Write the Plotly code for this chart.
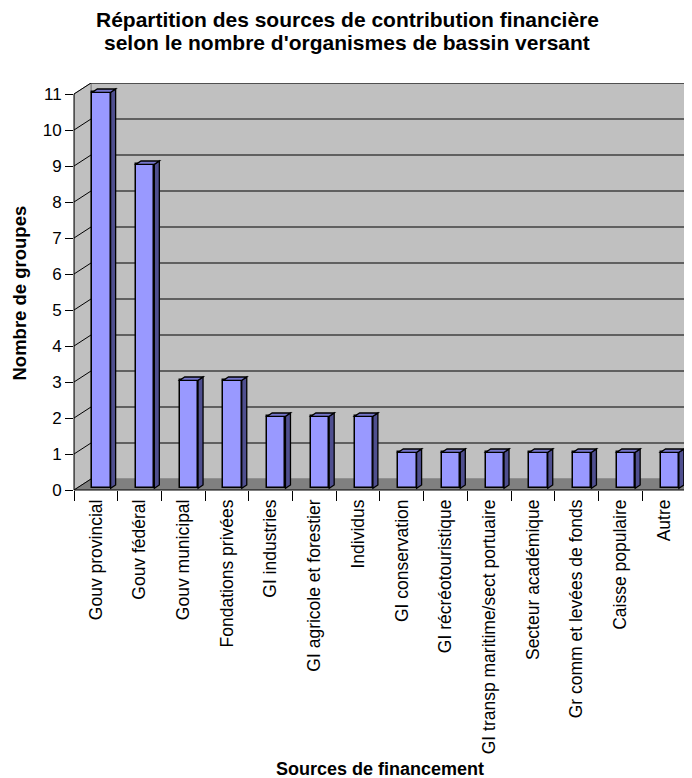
import plotly.graph_objects as go

# ---------------- data ----------------
categories = [
    "Gouv provincial", "Gouv fédéral", "Gouv municipal", "Fondations privées",
    "GI industries", "GI agricole et forestier", "Individus", "GI conservation",
    "GI récréotouristique", "GI transp maritime/sect portuaire",
    "Secteur académique", "Gr comm et levées de fonds", "Caisse populaire", "Autre",
]
values = [11, 9, 3, 3, 2, 2, 2, 1, 1, 1, 1, 1, 1, 1]
y_ticks = list(range(0, 12))

title_l1 = "Répartition des sources de contribution financière"
title_l2 = "selon le nombre d'organismes de bassin versant"
x_title = "Sources de financement"
y_title = "Nombre de groupes"

# ---------------- geometry (pseudo-3D, Excel-like) ----------------
PAGE_OFF = 8                              # default body margin of the page
W, H = 692 - PAGE_OFF, 778 - PAGE_OFF
L_PX, T_PX, B_PX = 74 - PAGE_OFF, 83 - PAGE_OFF, 490 - PAGE_OFF
PX_PER_X = 43.71
PX_PER_Y = 36.0
n = len(categories)
XMIN = -0.5
XMAX = XMIN + (W - L_PX) / PX_PER_X
DX = 17 / PX_PER_X                       # depth shift of the walls
DY = 11 / PX_PER_Y
YTOP = max(y_ticks)
YMAX = YTOP + DY
XEND = n - 0.5

BAR_OFF = -0.081
BAR_W = 0.419
BAR_BASE = 1.7 / PX_PER_Y
SDX = 5 / PX_PER_X                       # bar depth
SDY = 3.3 / PX_PER_Y

FONT = "Liberation Sans, Arial, sans-serif"
WALL = "#c0c0c0"
FLOOR = "#808080"
FRONT = "#9999ff"
SIDE = "#4f4f8f"
TOP = "#7676cc"

plot_w = W - L_PX
plot_h = B_PX - T_PX


def px_x(p):
    return (p - PAGE_OFF - L_PX) / plot_w


def px_y(p):
    return (B_PX - (p - PAGE_OFF)) / plot_h


def poly(pts):
    return "M " + " L ".join(f"{x},{y}" for x, y in pts) + " Z"


shapes = []
# back wall
shapes.append(dict(type="path", xref="x", yref="y", layer="below",
                   path=poly([(XMIN + DX, DY), (XEND + DX, DY), (XEND + DX, YMAX), (XMIN + DX, YMAX)]),
                   fillcolor=WALL, line=dict(color="#808080", width=1)))
# left wall
shapes.append(dict(type="path", xref="x", yref="y", layer="below",
                   path=poly([(XMIN, 0), (XMIN, YTOP), (XMIN + DX, YMAX), (XMIN + DX, DY)]),
                   fillcolor=WALL, line=dict(color="#808080", width=1)))
# floor
shapes.append(dict(type="path", xref="x", yref="y", layer="below",
                   path=poly([(XMIN, 0), (XEND, 0), (XEND + DX, DY), (XMIN + DX, DY)]),
                   fillcolor=FLOOR, line=dict(color="#808080", width=1)))
# gridlines on back wall and left wall
for k in y_ticks:
    if k > 0:
        shapes.append(dict(type="line", xref="x", yref="y", layer="below",
                           x0=XMIN + DX, x1=XEND + DX, y0=k + DY, y1=k + DY,
                           line=dict(color="#000000", width=1)))
    shapes.append(dict(type="line", xref="x", yref="y", layer="below",
                       x0=XMIN, x1=XMIN + DX, y0=k, y1=k + DY,
                       line=dict(color="#000000", width=1)))
# axis lines (paper refs so they are not clipped)
shapes.append(dict(type="line", xref="paper", yref="paper",
                   x0=0, x1=0, y0=0, y1=YTOP / YMAX,
                   line=dict(color="#000000", width=1)))
shapes.append(dict(type="line", xref="paper", yref="paper",
                   x0=0, x1=(XEND - XMIN) / (XMAX - XMIN), y0=0, y1=0,
                   line=dict(color="#000000", width=1)))

# side and top faces of the bars
for i, v in enumerate(values):
    xl = i + BAR_OFF
    xr = xl + BAR_W
    top = BAR_BASE + v
    shapes.append(dict(type="path", xref="x", yref="y", layer="above",
                       path=poly([(xr, BAR_BASE), (xr, top), (xr + SDX, top + SDY), (xr + SDX, BAR_BASE + SDY)]),
                       fillcolor=SIDE, line=dict(color="#000000", width=1.3)))
    shapes.append(dict(type="path", xref="x", yref="y", layer="above",
                       path=poly([(xl, top), (xr, top), (xr + SDX, top + SDY), (xl + SDX, top + SDY)]),
                       fillcolor=TOP, line=dict(color="#000000", width=1.3)))

fig = go.Figure()
fig.add_trace(go.Bar(
    x=categories, y=values, base=BAR_BASE, offset=BAR_OFF, width=BAR_W,
    marker=dict(color=FRONT, line=dict(color="#000000", width=1.5)),
    hoverinfo="x+y", showlegend=False,
))

annotations = [
    dict(text=f"<b>{title_l1}</b>", x=px_x(347), y=px_y(19), xref="paper", yref="paper",
         showarrow=False, xanchor="center", yanchor="middle", font=dict(size=21, family=FONT, color="#000")),
    dict(text=f"<b>{title_l2}</b>", x=px_x(347), y=px_y(42), xref="paper", yref="paper",
         showarrow=False, xanchor="center", yanchor="middle", font=dict(size=21, family=FONT, color="#000")),
    dict(text=f"<b>{x_title}</b>", x=px_x(380), y=px_y(769), xref="paper", yref="paper",
         showarrow=False, xanchor="center", yanchor="middle", font=dict(size=18, family=FONT, color="#000")),
    dict(text=f"<b>{y_title}</b>", x=px_x(18.5), y=px_y(293), xref="paper", yref="paper",
         showarrow=False, xanchor="center", yanchor="middle", textangle=-90,
         font=dict(size=18.5, family=FONT, color="#000")),
]

fig.update_layout(
    width=W, height=H,
    margin=dict(l=L_PX, r=0, t=T_PX, b=H - B_PX, pad=0),
    paper_bgcolor="white", plot_bgcolor="white",
    font=dict(family=FONT, size=17, color="#000"),
    shapes=shapes, annotations=annotations,
    xaxis=dict(type="category", range=[XMIN, XMAX], tickson="boundaries",
               ticks="outside", ticklen=10, tickcolor="#000", tickwidth=1,
               ticklabelstandoff=5,
               showgrid=False, showline=False, zeroline=False, tickangle=-90,
               tickfont=dict(size=17.5, family=FONT, color="#000"), fixedrange=True),
    yaxis=dict(range=[0, YMAX], tickvals=y_ticks, ticks="outside", ticklen=8,
               tickcolor="#000", tickwidth=1, showgrid=False, showline=False,
               zeroline=False, tickfont=dict(size=17, family=FONT, color="#000"),
               fixedrange=True),
    bargap=0,
)

fig.write_html("out.html")
